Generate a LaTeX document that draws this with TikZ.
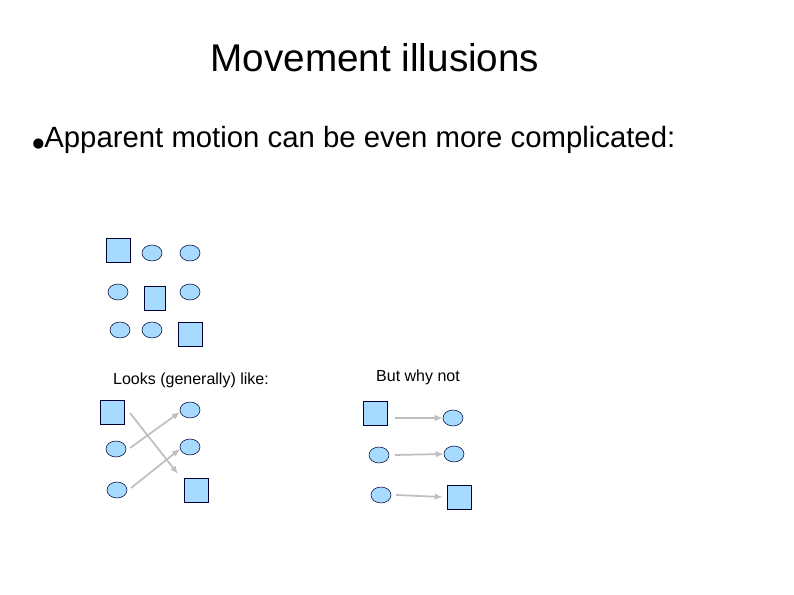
\documentclass[tikz,border=0pt]{standalone}
\usepackage{fontspec}
\setmainfont{Liberation Sans}
\newfontfamily\dejavu{DejaVu Sans}
\begin{document}
\begin{tikzpicture}[x=0.75pt,y=-0.75pt,
  sq/.style={draw=black!80!blue,fill=blue!40!cyan!35,minimum width=18pt,minimum height=18pt,inner sep=0pt},
  el/.style={draw=black!80!blue,fill=blue!40!cyan!35,ellipse,minimum width=15pt,minimum height=12pt,inner sep=0pt},
  ar/.style={draw=black!25,line width=1.3pt,-{Latex[length=6pt,width=5pt]}}]
\usetikzlibrary{shapes.geometric,arrows.meta}
\useasboundingbox (0,0) rectangle (794,595);
\node (title) at (375,58) {\fontsize{29pt}{34pt}\selectfont Movement illusions};
\node[anchor=west] (bul) at (28,140) {\fontsize{22pt}{26pt}\selectfont{\dejavu\fontsize{10pt}{10pt}\selectfont●}Apparent motion can be even more complicated:};
\node[sq] (a1) at (118,250) {};
\node[el] (a2) at (152,253) {};
\node[el] (a3) at (190,253) {};
\node[el] (b1) at (118,292) {};
\node[sq,minimum width=16pt] (b2) at (155,298) {};
\node[el] (b3) at (190,292) {};
\node[el] (c1) at (120,330) {};
\node[el] (c2) at (152,330) {};
\node[sq] (c3) at (190,334) {};
\node (l1) at (191,380) {\fontsize{12pt}{14pt}\selectfont Looks (generally) like:};
\node (l2) at (418,377) {\fontsize{12pt}{14pt}\selectfont But why not};
\node[sq] (d1) at (112,412) {};
\node[el] (d2) at (190,410) {};
\node[el] (e1) at (116,449) {};
\node[el] (e2) at (190,447) {};
\node[el] (f1) at (117,490) {};
\node[sq] (f2) at (196,490) {};
\coordinate (p1) at (130,413); \coordinate (q1) at (178,474);
\coordinate (p2) at (130,448); \coordinate (q2) at (180,412);
\coordinate (p3) at (131,488); \coordinate (q3) at (180,449);
\draw[ar] (p1) -- (q1);
\draw[ar] (p2) -- (q2);
\draw[ar] (p3) -- (q3);
\node[sq] (g1) at (375,413) {};
\node[el] (g2) at (453,418) {};
\node[el] (h1) at (379,455) {};
\node[el] (h2) at (454,454) {};
\node[el] (i1) at (381,495) {};
\node[sq] (i2) at (459,497) {};
\draw[ar] (g1.east) ++(8,5) coordinate (r1) (r1) -- (g2.west);
\draw[ar] (h1) ++(16,0) coordinate (r2) (r2) -- (h2.west);
\draw[ar] (i1) ++(15,0) coordinate (r3) (r3) -- ([xshift=-3pt]i2.west);
\end{tikzpicture}
\end{document}
